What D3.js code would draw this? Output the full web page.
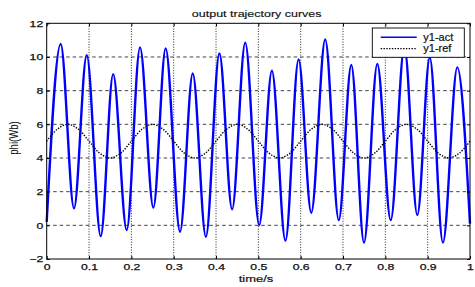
<!DOCTYPE html>
<html><head><meta charset="utf-8">
<script src="https://cdn.jsdelivr.net/npm/d3@7"></script>
<style>
html,body{margin:0;padding:0;background:#fff;}
svg{display:block;font-family:"Liberation Sans",Arial,sans-serif;}
</style></head>
<body><svg id="c" width="475" height="287"></svg>
<script>
// ---- data ----
const actTime = [0, 0.033, 0.0645, 0.0945, 0.1276, 0.157, 0.189, 0.2205, 0.252, 0.281, 0.315, 0.345, 0.376, 0.408, 0.438, 0.469, 0.502, 0.532, 0.564, 0.595, 0.625, 0.658, 0.690, 0.7196, 0.7496, 0.781, 0.8127, 0.845, 0.8755, 0.905, 0.936, 0.970, 1.0];
const actValue = [0.2, 10.77, 1.01, 10.11, -0.64, 8.98, -0.28, 10.57, 1.05, 10.5, -0.38, 9.02, -0.68, 10.21, 0.95, 10.85, 0.02, 9.18, -0.91, 9.86, 0.75, 11.04, 0.31, 9.52, -1.03, 9.58, 0.31, 10.6, 0.61, 9.97, -1.03, 9.38, 0.1];
const refTime = [0, 0.025, 0.05, 0.075, 0.1, 0.125, 0.15, 0.175, 0.2, 0.225, 0.25, 0.275, 0.3, 0.325, 0.35, 0.375, 0.4, 0.425, 0.45, 0.475, 0.5, 0.525, 0.55, 0.575, 0.6, 0.625, 0.65, 0.675, 0.7, 0.725, 0.75, 0.775, 0.8, 0.825, 0.85, 0.875, 0.9, 0.925, 0.95, 0.975, 1.0];
const refValue = [5, 5.71, 6, 5.71, 5, 4.29, 4, 4.29, 5, 5.71, 6, 5.71, 5, 4.29, 4, 4.29, 5, 5.71, 6, 5.71, 5, 4.29, 4, 4.29, 5, 5.71, 6, 5.71, 5, 4.29, 4, 4.29, 5, 5.71, 6, 5.71, 5, 4.29, 4, 4.29, 5];
const xTicks = [0, 0.1, 0.2, 0.3, 0.4, 0.5, 0.6, 0.7, 0.8, 0.9, 1];
const xTickLabels = ["0", "0.1", "0.2", "0.3", "0.4", "0.5", "0.6", "0.7", "0.8", "0.9", "1"];
const yTicks = [-2, 0, 2, 4, 6, 8, 10, 12];
const seriesNames = ["y1-act", "y1-ref"];
const titleText = "output trajectory curves";
const xLabel = "time/s";
const yLabel = "phi(Wb)";

// ---- layout ----
const L = 46.7, R = 470, T = 23.3, B = 259;
const svg = d3.select("#c");
const x = d3.scaleLinear().domain([0, 1]).range([L, R]);
const y = d3.scaleLinear().domain([-2, 12]).range([B, T]);

function stretch(sel, k) {
  sel.each(function () {
    const w = this.getComputedTextLength();
    this.setAttribute("textLength", w * k);
    this.setAttribute("lengthAdjust", "spacingAndGlyphs");
  });
}

// grid
const grid = svg.append("g");
grid.selectAll("line.h").data(yTicks.filter(d => d > -2 && d < 12)).join("line")
  .attr("x1", L).attr("x2", R).attr("y1", d => y(d)).attr("y2", d => y(d))
  .attr("stroke", "#222").attr("stroke-width", 0.85).attr("stroke-dasharray", "3.5,3");
grid.selectAll("line.v").data(xTicks.filter(d => d > 0 && d < 1)).join("line")
  .attr("y1", T).attr("y2", B).attr("x1", d => x(d)).attr("x2", d => x(d))
  .attr("stroke", "#111").attr("stroke-width", 0.9).attr("stroke-dasharray", "1,1.6");

// curves
const actPts = actTime.map((t, i) => [t, actValue[i]]);
const refPts = refTime.map((t, i) => [t, refValue[i]]);
svg.append("path").datum(actPts)
  .attr("d", d3.line().x(d => x(d[0])).y(d => y(d[1])).curve(d3.curveMonotoneX))
  .attr("fill", "none").attr("stroke", "#0000ff").attr("stroke-width", 2.4);
svg.append("path").datum(refPts)
  .attr("d", d3.line().x(d => x(d[0])).y(d => y(d[1])).curve(d3.curveCatmullRom))
  .attr("fill", "none").attr("stroke", "#000").attr("stroke-width", 1.4).attr("stroke-dasharray", "1.4,1.4");

// axes
const ax = svg.append("g").attr("transform", `translate(0,${B})`)
  .call(d3.axisBottom(x).tickValues(xTicks).tickFormat((d, i) => xTickLabels[i]).tickSizeInner(-3).tickSizeOuter(0).tickPadding(5));
const ay = svg.append("g").attr("transform", `translate(${L},0)`)
  .call(d3.axisLeft(y).tickValues(yTicks).tickSizeInner(-3).tickSizeOuter(0).tickPadding(3.5));
[ax, ay].forEach(a => {
  a.select(".domain").remove();
  a.selectAll("line").attr("stroke", "#000");
  a.selectAll("text").attr("font-size", 8.6).attr("fill", "#111").attr("font-family", "Liberation Sans, Arial, sans-serif")
    .attr("stroke", "#111").attr("stroke-width", 0.25);
});
stretch(ax.selectAll("text"), 1.42);
stretch(ay.selectAll("text"), 1.42);
// mirrored ticks top/right
svg.append("g").attr("transform", `translate(0,${T})`)
  .call(d3.axisTop(x).tickValues(xTicks).tickFormat("").tickSizeInner(-3).tickSizeOuter(0))
  .call(g => { g.select(".domain").remove(); g.selectAll("line").attr("stroke", "#000"); });
svg.append("g").attr("transform", `translate(${R},0)`)
  .call(d3.axisRight(y).tickValues(yTicks).tickFormat("").tickSizeInner(-3).tickSizeOuter(0))
  .call(g => { g.select(".domain").remove(); g.selectAll("line").attr("stroke", "#000"); });

// frame
svg.append("rect").attr("x", L).attr("y", T).attr("width", R - L).attr("height", B - T)
  .attr("fill", "none").attr("stroke", "#000").attr("stroke-width", 1);

// title and labels
const tt = svg.append("text").attr("x", 256.7).attr("y", 17).attr("text-anchor", "middle")
  .attr("font-size", 9.6).attr("fill", "#111").attr("stroke", "#111").attr("stroke-width", 0.15).text(titleText);
stretch(tt, 1.3);
const xl = svg.append("text").attr("x", 256).attr("y", 282).attr("text-anchor", "middle")
  .attr("font-size", 9.6).attr("fill", "#111").attr("stroke", "#111").attr("stroke-width", 0.2).text(xLabel);
stretch(xl, 1.35);
svg.append("text").attr("transform", "translate(18,138) rotate(-90) scale(1,1.3)")
  .attr("text-anchor", "middle").attr("font-size", 9.6).attr("fill", "#111").text(yLabel);

// legend
const lg = svg.append("g");
lg.append("rect").attr("x", 372.3).attr("y", 28).attr("width", 92).attr("height", 29.3)
  .attr("fill", "#fff").attr("stroke", "#000").attr("stroke-width", 0.9);
const rows = [37.3, 48.6];
lg.append("line").attr("x1", 380.7).attr("x2", 416.7).attr("y1", rows[0]).attr("y2", rows[0])
  .attr("stroke", "#0000ff").attr("stroke-width", 1.6);
lg.append("line").attr("x1", 380.7).attr("x2", 416.7).attr("y1", rows[1]).attr("y2", rows[1])
  .attr("stroke", "#000").attr("stroke-width", 1.2).attr("stroke-dasharray", "1.4,1.4");
const lt = lg.selectAll("text.leg").data(seriesNames).join("text")
  .attr("x", 423.3).attr("y", (d, i) => rows[i]).attr("dy", "0.36em")
  .attr("font-size", 10).attr("fill", "#111").attr("stroke", "#111").attr("stroke-width", 0.2).text(d => d);
stretch(lt, 1.1);
</script></body></html>
